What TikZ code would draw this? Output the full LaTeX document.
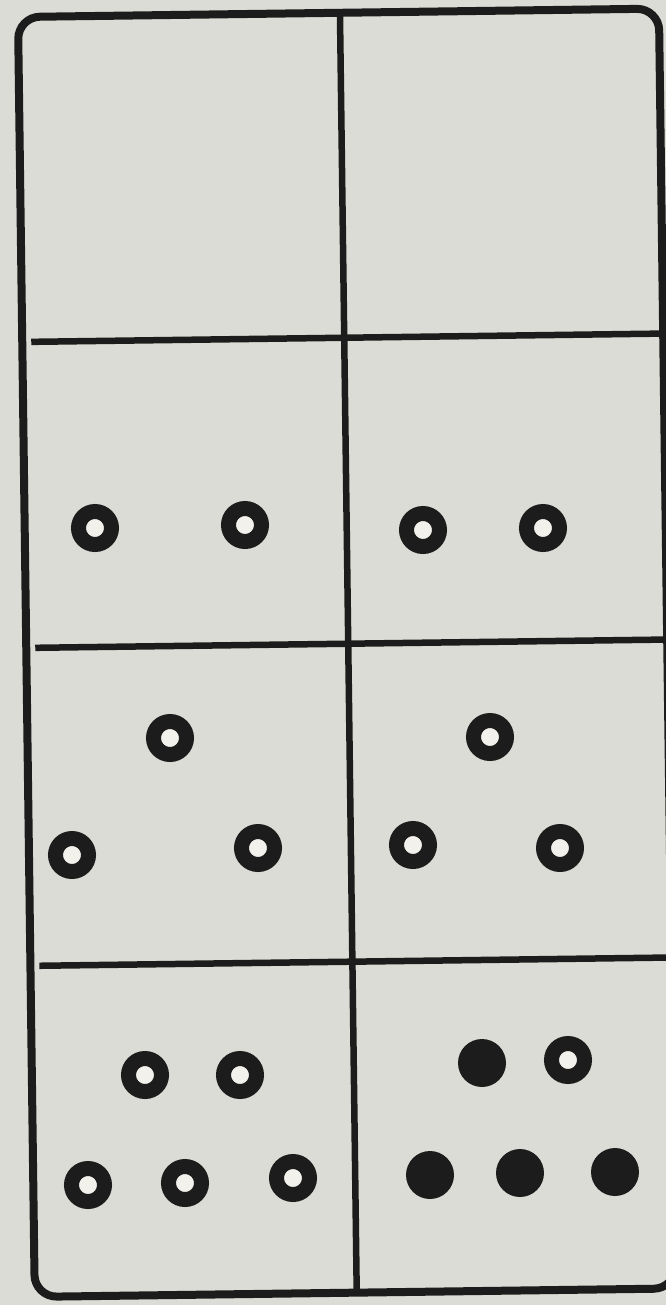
\documentclass[tikz,border=0pt]{standalone}
\usepackage{xcolor}
\usepackage{tikz}
\definecolor{paper}{HTML}{DCDCD6}
\definecolor{ink}{HTML}{1C1C1C}
\definecolor{hole}{HTML}{F2F1EC}

\begin{document}
\begin{tikzpicture}[x=0.02cm,y=-0.02cm,
  frame/.style={draw=ink,line width=0.16cm,rounded corners=0.44cm},
  divider/.style={draw=ink,line width=0.13cm},
  ring/.style={draw=ink,fill=hole,line width=0.3cm},
  dot/.style={fill=ink}]
  \fill[paper] (0,0) rectangle (666,1305);
  \useasboundingbox (0,0) rectangle (666,1305);
  % the board, slightly turned
  \begin{scope}[shift={(18,17)},rotate=0.75]
    \draw[frame] (0,0) rectangle (641,1280);
    \draw[divider] (322,0) -- (322,1280);
    \foreach \v in {325,631,949}
      \draw[divider] (9,\v) -- (641,\v);
  \end{scope}
  % second row
  \draw[ring] (95,528) circle[radius=0.33cm];
  \draw[ring] (245,525) circle[radius=0.33cm];
  \draw[ring] (423,530) circle[radius=0.33cm];
  \draw[ring] (543,528) circle[radius=0.33cm];
  % third row
  \draw[ring] (170,738) circle[radius=0.33cm];
  \draw[ring] (72,855) circle[radius=0.33cm];
  \draw[ring] (258,848) circle[radius=0.33cm];
  \draw[ring] (490,737) circle[radius=0.33cm];
  \draw[ring] (413,845) circle[radius=0.33cm];
  \draw[ring] (560,848) circle[radius=0.33cm];
  % fourth row
  \draw[ring] (145,1075) circle[radius=0.33cm];
  \draw[ring] (240,1075) circle[radius=0.33cm];
  \draw[ring] (88,1185) circle[radius=0.33cm];
  \draw[ring] (185,1183) circle[radius=0.33cm];
  \draw[ring] (293,1178) circle[radius=0.33cm];
  \fill[dot] (482,1063) circle[radius=0.48cm];
  \draw[ring] (568,1060) circle[radius=0.33cm];
  \fill[dot] (430,1175) circle[radius=0.48cm];
  \fill[dot] (520,1173) circle[radius=0.48cm];
  \fill[dot] (615,1172) circle[radius=0.48cm];
\end{tikzpicture}
\end{document}
